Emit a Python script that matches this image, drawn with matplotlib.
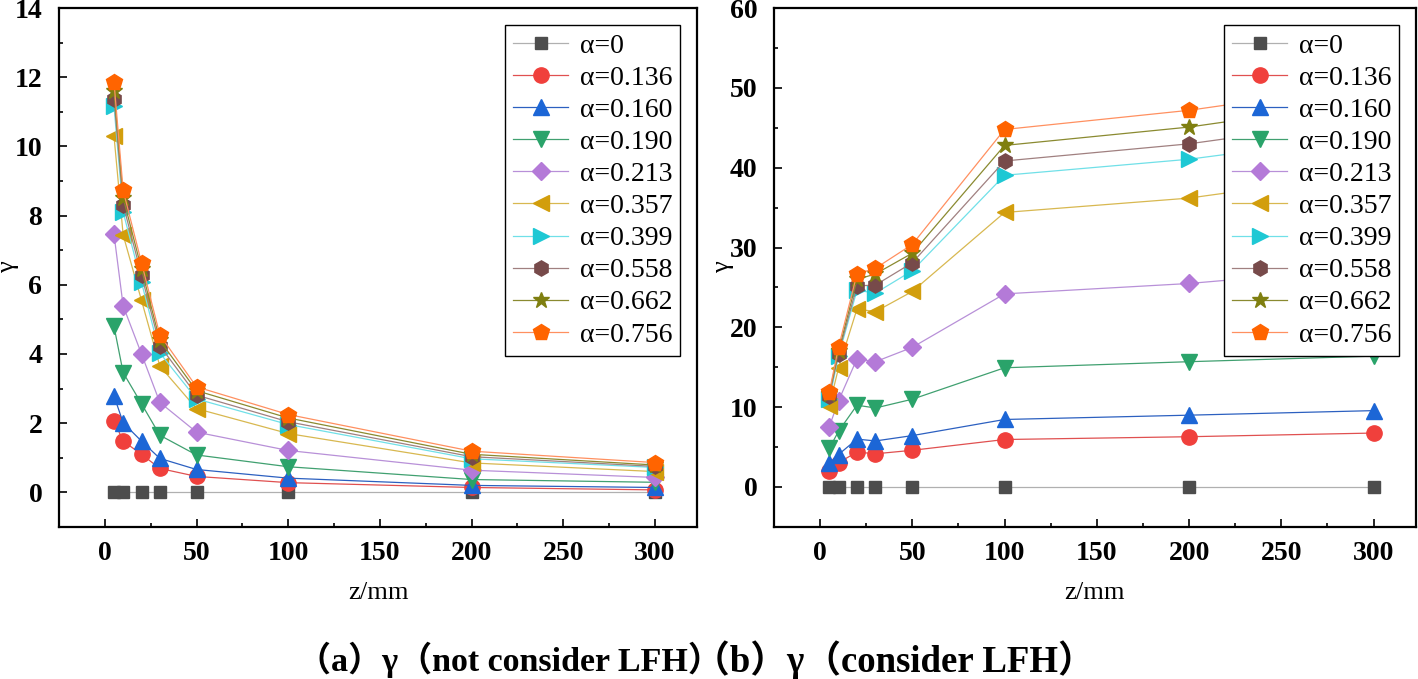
import numpy as np
import matplotlib.pyplot as plt
from matplotlib.ticker import MultipleLocator

# Datos
z = [5, 10, 20, 30, 50, 100, 200, 300]
alphas = ["0", "0.136", "0.160", "0.190", "0.213", "0.357", "0.399", "0.558", "0.662", "0.756"]

# (a) sin LFH
gamma_a = [
    [0, 0, 0, 0, 0, 0, 0, 0],
    [2.07, 1.48, 1.10, 0.69, 0.46, 0.28, 0.14, 0.07],
    [2.79, 2.01, 1.48, 0.98, 0.66, 0.41, 0.20, 0.14],
    [4.80, 3.46, 2.56, 1.65, 1.08, 0.74, 0.37, 0.29],
    [7.46, 5.39, 4.00, 2.60, 1.74, 1.21, 0.64, 0.43],
    [10.30, 7.44, 5.55, 3.65, 2.42, 1.70, 0.85, 0.60],
    [11.16, 8.10, 6.07, 4.03, 2.70, 1.96, 0.97, 0.72],
    [11.38, 8.32, 6.28, 4.24, 2.81, 2.04, 1.03, 0.75],
    [11.60, 8.52, 6.46, 4.39, 2.94, 2.15, 1.10, 0.79],
    [11.86, 8.73, 6.64, 4.55, 3.05, 2.25, 1.19, 0.86],
]

# (b) con LFH
gamma_b = [
    [0, 0, 0, 0, 0, 0, 0, 0],
    [2.06, 3.04, 4.38, 4.16, 4.60, 5.95, 6.30, 6.76],
    [2.95, 4.07, 6.00, 5.77, 6.44, 8.46, 9.00, 9.57],
    [4.83, 6.98, 10.25, 9.90, 11.00, 14.94, 15.70, 16.40],
    [7.56, 10.80, 16.06, 15.70, 17.50, 24.20, 25.50, 27.50],
    [10.20, 14.90, 22.30, 21.97, 24.50, 34.40, 36.20, 39.40],
    [11.00, 16.40, 24.65, 24.30, 27.10, 39.06, 41.07, 44.10],
    [11.40, 16.70, 25.20, 25.30, 28.10, 40.85, 43.00, 46.20],
    [11.70, 17.00, 26.00, 26.70, 29.30, 42.80, 45.10, 48.40],
    [11.90, 17.50, 26.70, 27.40, 30.40, 44.80, 47.20, 50.50],
]

caption_a = "（a）γ（not consider LFH）"
caption_b = "（b）γ（consider LFH）"

colors = ["#4d4d4d", "#f0403c", "#1c66d6", "#2aa36a", "#b47ad8",
          "#d29e0c", "#1ec8d4", "#774a4a", "#7f7f10", "#ff6400"]
line_colors = ["#b0b0b0", "#e05050", "#2c60c0", "#40a070", "#b890d8",
               "#d8b850", "#70e0e8", "#a08080", "#8a8a30", "#ff9060"]
markers = ["s", "o", "^", "v", "D", "<", ">", "h", "*", "p"]
msizes = [9, 11, 11, 11, 9, 11, 11, 11, 12, 12]

plt.rcParams["font.family"] = ["Liberation Serif", "Noto Sans CJK SC"]

fig = plt.figure(figsize=(14.18, 6.79), dpi=100)
ax1 = fig.add_axes([0.0416, 0.224, 0.450, 0.764])
ax2 = fig.add_axes([0.5458, 0.224, 0.4528, 0.764])


def draw(ax, data, ylim, ymaj, ymin):
    for i, a in enumerate(alphas):
        ax.plot(z, data[i], color=line_colors[i], lw=0.9, marker=markers[i],
                ms=msizes[i], mfc=colors[i], mec=colors[i], label=f"α={a}")
    ax.set_xlim(-25, 323)
    ax.set_ylim(*ylim)
    ax.xaxis.set_major_locator(MultipleLocator(50))
    ax.xaxis.set_minor_locator(MultipleLocator(25))
    ax.yaxis.set_major_locator(MultipleLocator(ymaj))
    ax.yaxis.set_minor_locator(MultipleLocator(ymin))
    ax.tick_params(which="both", direction="in", top=False, right=False,
                   width=1.2)
    ax.tick_params(which="major", length=6, labelsize=20)
    ax.tick_params(axis="x", which="major", pad=10)
    ax.tick_params(axis="y", which="major", pad=12)
    ax.tick_params(which="minor", length=3)
    for lab in ax.get_xticklabels() + ax.get_yticklabels():
        lab.set_fontweight("bold")
    for s in ax.spines.values():
        s.set_linewidth(1.6)
    ax.set_xlabel("z/mm", fontsize=19, labelpad=12)
    ax.set_ylabel("γ", fontsize=19, labelpad=0)
    ax.yaxis.set_label_coords(-0.062, 0.5)
    leg = ax.legend(loc="upper right", fontsize=20, frameon=True,
                    fancybox=False, edgecolor="black", framealpha=1,
                    handlelength=2.0, borderpad=0.3, labelspacing=0.24,
                    handletextpad=0.4, borderaxespad=0.6)
    leg.get_frame().set_linewidth(1.0)


draw(ax1, gamma_a, (-1, 14), 2, 1)
draw(ax2, gamma_b, (-5, 60), 10, 5)

# pie de figura en dos trozos para juntar los parentesis del centro
fig.text(722 / 1418, 0.028, caption_a, ha="right", va="center",
         fontsize=24.5, fontweight="bold")
fig.text(693 / 1418, 0.028, caption_b, ha="left", va="center",
         fontsize=26.5, fontweight="bold")

fig.savefig("out.png", dpi=100)
